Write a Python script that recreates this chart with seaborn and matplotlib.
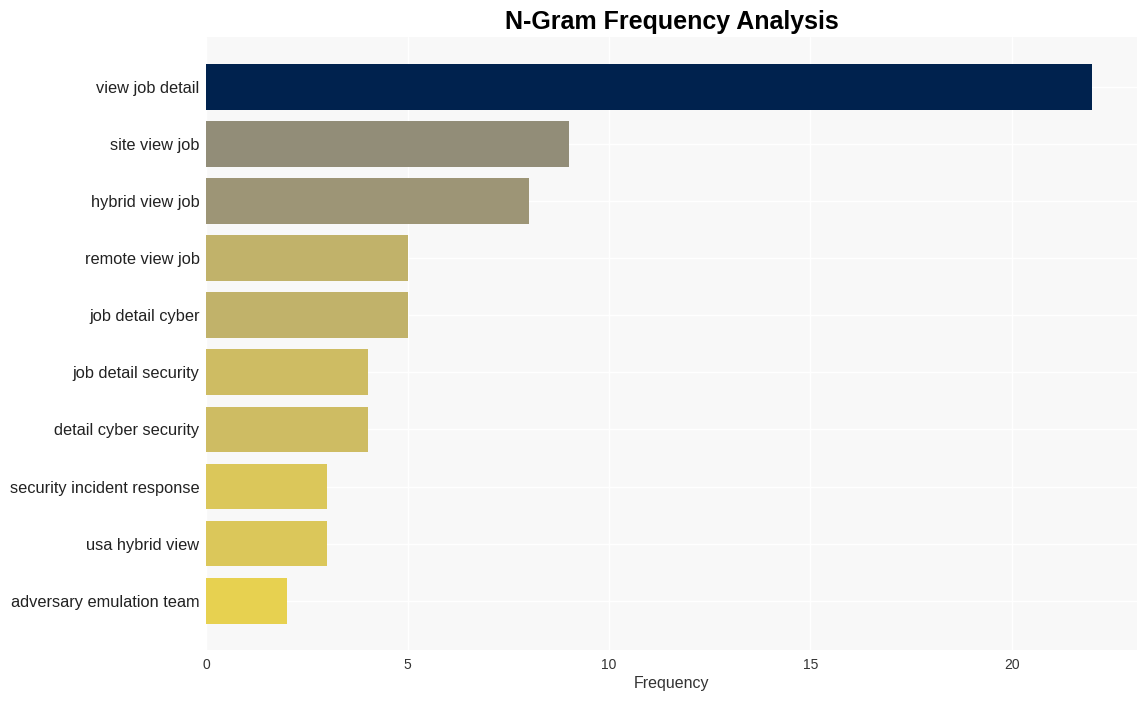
import matplotlib
matplotlib.use('Agg')
import matplotlib.pyplot as plt
import seaborn as sns
import pandas as pd

# dados
ngrams = ['view job detail', 'site view job', 'hybrid view job', 'remote view job',
          'job detail cyber', 'job detail security', 'detail cyber security',
          'security incident response', 'usa hybrid view', 'adversary emulation team']
freqs = [22, 9, 8, 5, 5, 4, 4, 3, 3, 2]

df = pd.DataFrame({'ngram': ngrams, 'freq': freqs})

# cor pela frequência (cividis invertido)
cmap = matplotlib.colormaps['cividis_r']
cores = [cmap(v / max(freqs)) for v in freqs]

sns.set_style('whitegrid')
plt.rcParams['font.family'] = ['Arial', 'Liberation Sans', 'DejaVu Sans']

fig = plt.figure(figsize=(11.47, 7.01), dpi=100)
ax = fig.add_axes([0.180, 0.073, 0.811, 0.874])
ax.set_facecolor('#f8f8f8')

sns.barplot(data=df, y='ngram', x='freq', hue='ngram', palette=cores,
            legend=False, width=0.8, saturation=1, linewidth=0, ax=ax)

ax.set_xlim(0, 23.1)
ax.set_ylim(9.86, -0.87)
ax.grid(True, color='white', linewidth=1)
ax.set_axisbelow(True)
for s in ax.spines.values():
    s.set_visible(False)

ax.set_title('N-Gram Frequency Analysis', fontsize=18, fontweight='bold', color='black', pad=6)
ax.set_xlabel('Frequency', fontsize=11.5, color='#333333', labelpad=3)
ax.set_ylabel('')
ax.tick_params(axis='y', labelsize=11.8, colors='#222222', length=0, pad=5)
ax.tick_params(axis='x', labelsize=10, colors='#333333', length=0, pad=6)

fig.savefig('out.png', dpi=100)
